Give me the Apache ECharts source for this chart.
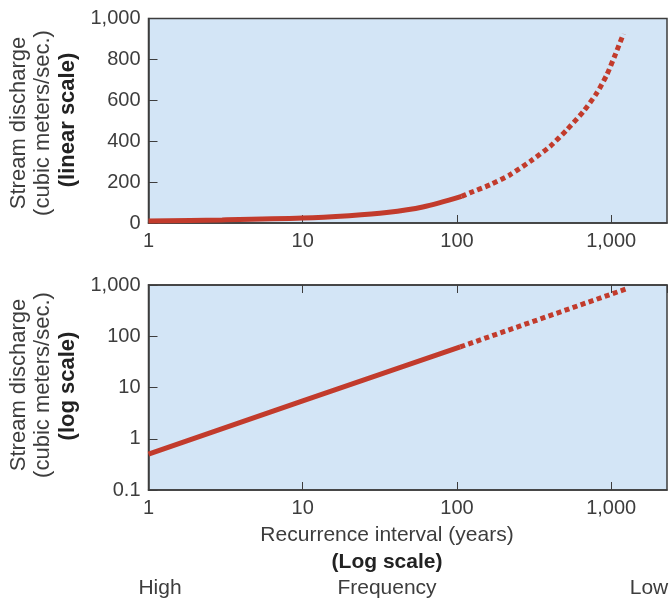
<!DOCTYPE html>
<html>
<head>
<meta charset="utf-8">
<script src="https://cdn.jsdelivr.net/npm/echarts@6/dist/echarts.min.js"></script>
<style>
  html, body { margin: 0; padding: 0; background: #ffffff; }
  #main { width: 670px; height: 599px; }
</style>
</head>
<body>
<div id="main"></div>
<script>
  // recurrence interval (years) vs discharge
  const linearSolid = [[1, 10], [3, 15], [10, 24], [20, 36], [35, 51], [60, 78], [107, 130]];
  const linearDotted = [[107, 130], [121, 147], [164, 187], [221, 236], [298, 301], [402, 375], [516, 456], [661, 546], [807, 636], [937, 725], [1062, 823], [1200, 925]];
  const logSolid = [[1, 0.5], [10, 5.5], [105, 62]];
  const logDotted = [[105, 62], [1240, 830]];

  const ink = '#3d3d3d';
  const red = '#c23b2c';
  const font = '"Liberation Sans", Arial, sans-serif';

  function fmt(v) {
    if (v < 1) return String(+v.toFixed(1));
    return Math.round(v).toLocaleString('en-US');
  }

  const xCommon = {
    type: 'log',
    logBase: 10,
    min: 1,
    max: 2300,
    axisLine: { show: true, lineStyle: { color: ink, width: 1.5 } },
    axisTick: { show: true, inside: true, length: 8, lineStyle: { color: ink, width: 1 } },
    splitLine: { show: false },
    minorTick: { show: false },
    axisLabel: {
      showMaxLabel: false,
      margin: 8,
      color: ink,
      fontFamily: font,
      fontSize: 20,
      formatter: fmt
    }
  };

  const lineBase = {
    type: 'line',
    showSymbol: false,
    symbol: 'none',
    silent: true,
    z: 5
  };

  const myChart = echarts.init(document.getElementById('main'), null, { renderer: 'canvas' });

  const option = {
    backgroundColor: '#ffffff',
    animation: false,
    grid: [
      { left: 148.5, top: 18.5, right: 3, height: 204.5, show: true, backgroundColor: '#d3e5f6', borderColor: ink, borderWidth: 1.5 },
      { left: 148.5, top: 285, right: 3, height: 205, show: true, backgroundColor: '#d3e5f6', borderColor: ink, borderWidth: 1.5 }
    ],
    xAxis: [
      Object.assign({}, xCommon, { gridIndex: 0 }),
      Object.assign({}, xCommon, { gridIndex: 1 }),
      Object.assign({}, xCommon, {
        gridIndex: 1,
        position: 'top',
        axisLabel: { show: false }
      })
    ],
    yAxis: [
      {
        type: 'value',
        gridIndex: 0,
        min: 0,
        max: 1000,
        interval: 200,
        axisLine: { show: true, lineStyle: { color: ink, width: 1.5 } },
        axisTick: { show: true, inside: true, length: 9, lineStyle: { color: ink } },
        splitLine: { show: false },
        axisLabel: { margin: 8, color: ink, fontFamily: font, fontSize: 20, formatter: fmt }
      },
      {
        type: 'log',
        logBase: 10,
        gridIndex: 1,
        min: 0.1,
        max: 1000,
        axisLine: { show: true, lineStyle: { color: ink, width: 1.5 } },
        axisTick: { show: true, inside: true, length: 9, lineStyle: { color: ink } },
        splitLine: { show: false },
        minorTick: { show: false },
        axisLabel: { margin: 8, color: ink, fontFamily: font, fontSize: 20, formatter: fmt }
      }
    ],
    series: [
      Object.assign({}, lineBase, {
        xAxisIndex: 0, yAxisIndex: 0, smooth: 0.3,
        data: linearSolid,
        lineStyle: { color: red, width: 5, cap: 'butt' }
      }),
      Object.assign({}, lineBase, {
        xAxisIndex: 0, yAxisIndex: 0, smooth: 0.2,
        data: linearDotted,
        lineStyle: { color: red, width: 5, type: [5, 3.5], cap: 'butt' }
      }),
      Object.assign({}, lineBase, {
        xAxisIndex: 1, yAxisIndex: 1,
        data: logSolid,
        lineStyle: { color: red, width: 5, cap: 'butt' }
      }),
      Object.assign({}, lineBase, {
        xAxisIndex: 1, yAxisIndex: 1,
        data: logDotted,
        lineStyle: { color: red, width: 5, type: [5, 3.5], cap: 'butt' }
      })
    ],
    graphic: [
      // y titles, top panel
      { type: 'text', x: 19, y: 123, rotation: Math.PI / 2, style: { text: 'Stream discharge', fill: ink, font: '22px ' + font, align: 'center', verticalAlign: 'middle' } },
      { type: 'text', x: 43, y: 123, rotation: Math.PI / 2, style: { text: '(cubic meters/sec.)', fill: ink, font: '22px ' + font, align: 'center', verticalAlign: 'middle' } },
      { type: 'text', x: 68, y: 120, rotation: Math.PI / 2, style: { text: '(linear scale)', fill: '#222', font: 'bold 22px ' + font, align: 'center', verticalAlign: 'middle' } },
      // y titles, bottom panel
      { type: 'text', x: 19, y: 385, rotation: Math.PI / 2, style: { text: 'Stream discharge', fill: ink, font: '22px ' + font, align: 'center', verticalAlign: 'middle' } },
      { type: 'text', x: 43, y: 385, rotation: Math.PI / 2, style: { text: '(cubic meters/sec.)', fill: ink, font: '22px ' + font, align: 'center', verticalAlign: 'middle' } },
      { type: 'text', x: 68, y: 386, rotation: Math.PI / 2, style: { text: '(log scale)', fill: '#222', font: 'bold 22px ' + font, align: 'center', verticalAlign: 'middle' } },
      // x titles
      { type: 'text', x: 387, y: 535, style: { text: 'Recurrence interval (years)', fill: ink, font: '21px ' + font, align: 'center', verticalAlign: 'middle' } },
      { type: 'text', x: 387, y: 562, style: { text: '(Log scale)', fill: '#222', font: 'bold 21px ' + font, align: 'center', verticalAlign: 'middle' } },
      { type: 'text', x: 160, y: 588, style: { text: 'High', fill: ink, font: '21px ' + font, align: 'center', verticalAlign: 'middle' } },
      { type: 'text', x: 387, y: 588, style: { text: 'Frequency', fill: ink, font: '21px ' + font, align: 'center', verticalAlign: 'middle' } },
      { type: 'text', x: 649, y: 588, style: { text: 'Low', fill: ink, font: '21px ' + font, align: 'center', verticalAlign: 'middle' } }
    ]
  };

  myChart.setOption(option);
  window.addEventListener('resize', function () {
    myChart.resize();
  });
</script>
</body>
</html>
